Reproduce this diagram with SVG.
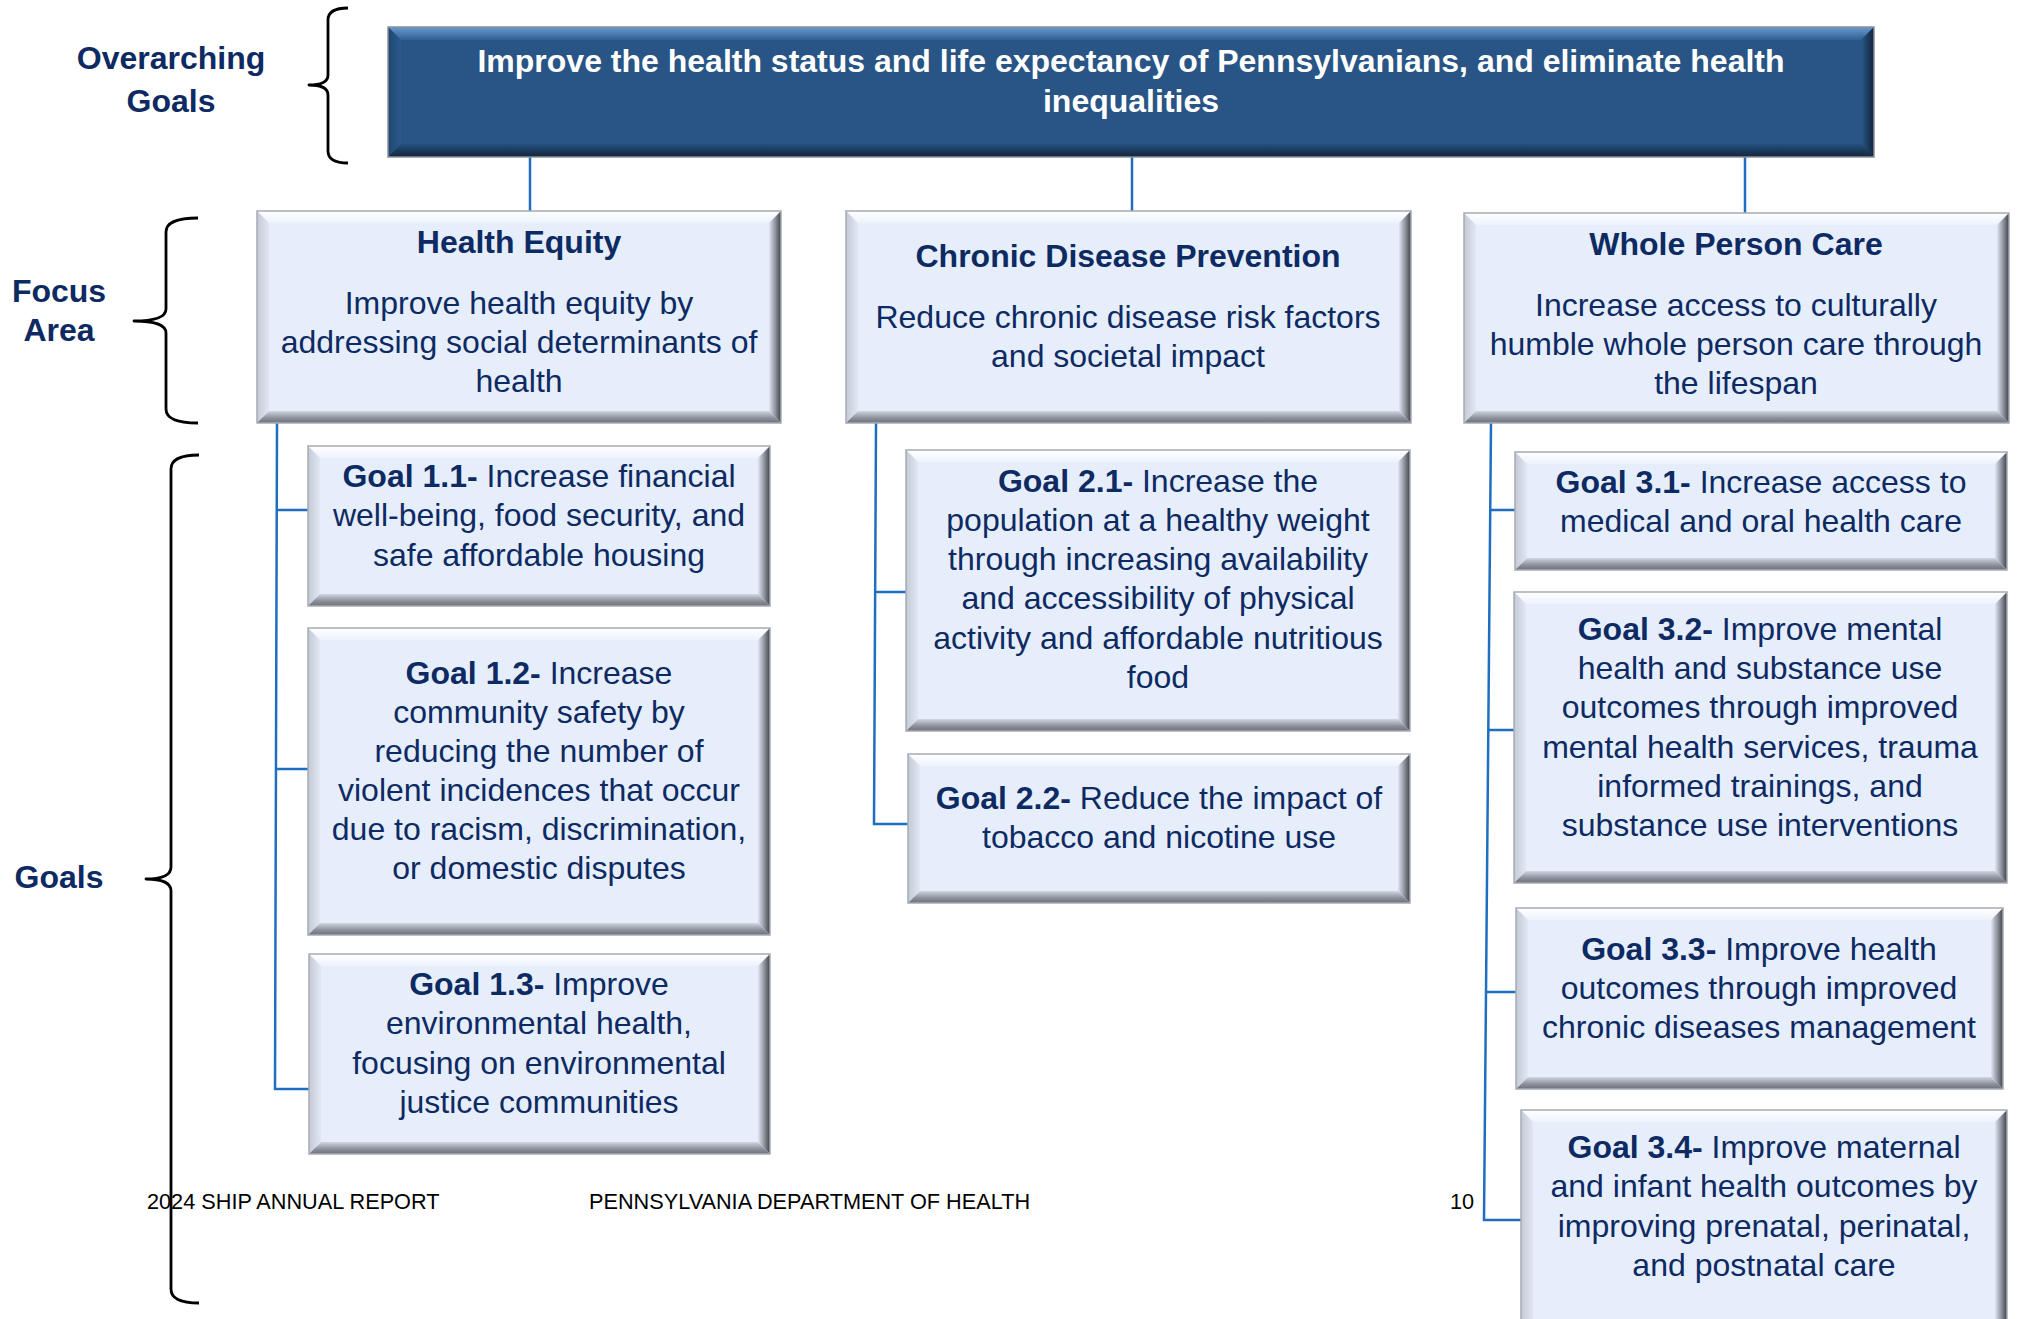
<svg xmlns="http://www.w3.org/2000/svg" width="2021" height="1319" viewBox="0 0 2021 1319">
<defs>
<linearGradient id="ltTop" x1="0" y1="0" x2="0" y2="1"><stop offset="0" stop-color="#ffffff"/><stop offset="1" stop-color="#edf2fc"/></linearGradient>
<linearGradient id="ltLeft" x1="0" y1="0" x2="1" y2="0"><stop offset="0" stop-color="#c3c9d5"/><stop offset="1" stop-color="#e1e7f3"/></linearGradient>
<linearGradient id="ltRight" x1="0" y1="0" x2="1" y2="0"><stop offset="0" stop-color="#dfe6f2"/><stop offset="0.55" stop-color="#8a8f99"/><stop offset="1" stop-color="#3e424a"/></linearGradient>
<linearGradient id="ltBot" x1="0" y1="0" x2="0" y2="1"><stop offset="0" stop-color="#d0d6e2"/><stop offset="0.6" stop-color="#8a8f99"/><stop offset="1" stop-color="#6c717a"/></linearGradient>
<linearGradient id="dkTop" x1="0" y1="0" x2="0" y2="1"><stop offset="0" stop-color="#6b99cd"/><stop offset="1" stop-color="#2f5f94"/></linearGradient>
<linearGradient id="dkLeft" x1="0" y1="0" x2="1" y2="0"><stop offset="0" stop-color="#1f4670"/><stop offset="1" stop-color="#2a5a8e"/></linearGradient>
<linearGradient id="dkRight" x1="0" y1="0" x2="1" y2="0"><stop offset="0" stop-color="#295889"/><stop offset="1" stop-color="#132339"/></linearGradient>
<linearGradient id="dkBot" x1="0" y1="0" x2="0" y2="1"><stop offset="0" stop-color="#24507f"/><stop offset="1" stop-color="#14253b"/></linearGradient>
<style>
.face{fill:#e6eefc}
.bt{fill:url(#ltTop)}.bl{fill:url(#ltLeft)}.br{fill:url(#ltRight)}.bb{fill:url(#ltBot)}
.edge{fill:none;stroke:#a6abb4;stroke-width:1.5}
.dface{fill:#285585}
.dt{fill:url(#dkTop)}.dl{fill:url(#dkLeft)}.dr{fill:url(#dkRight)}.db{fill:url(#dkBot)}
.dedge{fill:none;stroke:#8a9099;stroke-width:1.5}
.t{font-family:"Liberation Sans",Arial,sans-serif;font-size:32px;fill:#0e2a62;text-anchor:middle}
.b{font-weight:bold}
.w{fill:#ffffff;font-weight:bold}
.ft{font-family:"Liberation Sans",Arial,sans-serif;font-size:21.7px;fill:#000000}
.con{fill:none;stroke:#1f6fc0;stroke-width:2.5}
.brace{fill:none;stroke:#000000;stroke-width:2.8;stroke-linejoin:round}
</style>
</defs>
<rect width="2021" height="1319" fill="#ffffff"/>

<g id="braces">
<path class="brace" d="M348 8 Q328 8 328 20 L328 75 Q328 85 309 85 Q328 85 328 95 L328 151 Q328 163 348 163"/>
<path class="brace" d="M198 218 Q166 218 166 232 L166 309 Q166 321 134 321 Q166 321 166 333 L166 409 Q166 423 198 423"/>
<path class="brace" d="M199 455 Q171 455 171 469 L171 867 Q171 879 146 879 Q171 879 171 891 L171 1289 Q171 1303 199 1303"/>
</g>

<g id="labels">
<text class="t b" x="171" y="69">Overarching</text>
<text class="t b" x="171" y="112">Goals</text>
<text class="t b" x="59" y="302">Focus</text>
<text class="t b" x="59" y="341">Area</text>
<text class="t b" x="59" y="888">Goals</text>
</g>

<g id="connectors">
<path class="con" d="M530 157 L530 211"/>
<path class="con" d="M1132 157 L1132 211"/>
<path class="con" d="M1745 157 L1745 213"/>
<path class="con" d="M277 423 L275 1089 L309 1089"/>
<path class="con" d="M276.7 510 L308 510"/>
<path class="con" d="M276 769 L308 769"/>
<path class="con" d="M876 423 L874 824 L908 824"/>
<path class="con" d="M875.2 592 L906 592"/>
<path class="con" d="M1491 423 L1484 1220 L1521 1220"/>
<path class="con" d="M1490.2 510 L1515 510"/>
<path class="con" d="M1488.3 730 L1514 730"/>
<path class="con" d="M1486 992 L1516 992"/>
</g>

<g id="top-goal">
<rect class="dface" x="388" y="27" width="1486" height="130"/>
<polygon class="dt" points="388,27 1874,27 1861,40 401,40"/>
<polygon class="dl" points="388,27 401,40 401,144 388,157"/>
<polygon class="dr" points="1874,27 1874,157 1861,144 1861,40"/>
<polygon class="db" points="388,157 1874,157 1861,144 401,144"/>
<rect class="dedge" x="388" y="27" width="1486" height="130"/>
<text class="t w" x="1131" y="72">Improve the health status and life expectancy of Pennsylvanians, and eliminate health</text>
<text class="t w" x="1131" y="112">inequalities</text>
</g>

<g id="fa-health-equity">
<rect class="face" x="257" y="211" width="524" height="212"/>
<polygon class="bt" points="257,211 781,211 769,223 269,223"/>
<polygon class="bl" points="257,211 269,223 269,411 257,423"/>
<polygon class="br" points="781,211 781,423 769,411 769,223"/>
<polygon class="bb" points="257,423 781,423 769,411 269,411"/>
<rect class="edge" x="257" y="211" width="524" height="212"/>
<text class="t b" x="519" y="253">Health Equity</text>
<text class="t" x="519" y="314">Improve health equity by</text>
<text class="t" x="519" y="353">addressing social determinants of</text>
<text class="t" x="519" y="392">health</text>
</g>

<g id="fa-chronic-disease">
<rect class="face" x="846" y="211" width="565" height="212"/>
<polygon class="bt" points="846,211 1411,211 1399,223 858,223"/>
<polygon class="bl" points="846,211 858,223 858,411 846,423"/>
<polygon class="br" points="1411,211 1411,423 1399,411 1399,223"/>
<polygon class="bb" points="846,423 1411,423 1399,411 858,411"/>
<rect class="edge" x="846" y="211" width="565" height="212"/>
<text class="t b" x="1128" y="267">Chronic Disease Prevention</text>
<text class="t" x="1128" y="328">Reduce chronic disease risk factors</text>
<text class="t" x="1128" y="367">and societal impact</text>
</g>

<g id="fa-whole-person">
<rect class="face" x="1464" y="213" width="545" height="210"/>
<polygon class="bt" points="1464,213 2009,213 1997,225 1476,225"/>
<polygon class="bl" points="1464,213 1476,225 1476,411 1464,423"/>
<polygon class="br" points="2009,213 2009,423 1997,411 1997,225"/>
<polygon class="bb" points="1464,423 2009,423 1997,411 1476,411"/>
<rect class="edge" x="1464" y="213" width="545" height="210"/>
<text class="t b" x="1736" y="255">Whole Person Care</text>
<text class="t" x="1736" y="316">Increase access to culturally</text>
<text class="t" x="1736" y="355">humble whole person care through</text>
<text class="t" x="1736" y="394">the lifespan</text>
</g>

<g id="goal-1-1">
<rect class="face" x="308" y="446" width="462" height="160"/>
<polygon class="bt" points="308,446 770,446 758,458 320,458"/>
<polygon class="bl" points="308,446 320,458 320,594 308,606"/>
<polygon class="br" points="770,446 770,606 758,594 758,458"/>
<polygon class="bb" points="308,606 770,606 758,594 320,594"/>
<rect class="edge" x="308" y="446" width="462" height="160"/>
<text class="t" x="539" y="487"><tspan class="b">Goal 1.1-</tspan> Increase financial</text>
<text class="t" x="539" y="526">well-being, food security, and</text>
<text class="t" x="539" y="566">safe affordable housing</text>
</g>

<g id="goal-1-2">
<rect class="face" x="308" y="628" width="462" height="307"/>
<polygon class="bt" points="308,628 770,628 758,640 320,640"/>
<polygon class="bl" points="308,628 320,640 320,923 308,935"/>
<polygon class="br" points="770,628 770,935 758,923 758,640"/>
<polygon class="bb" points="308,935 770,935 758,923 320,923"/>
<rect class="edge" x="308" y="628" width="462" height="307"/>
<text class="t" x="539" y="684"><tspan class="b">Goal 1.2-</tspan> Increase</text>
<text class="t" x="539" y="723">community safety by</text>
<text class="t" x="539" y="762">reducing the number of</text>
<text class="t" x="539" y="801">violent incidences that occur</text>
<text class="t" x="539" y="840">due to racism, discrimination,</text>
<text class="t" x="539" y="879">or domestic disputes</text>
</g>

<g id="goal-1-3">
<rect class="face" x="309" y="954" width="461" height="200"/>
<polygon class="bt" points="309,954 770,954 758,966 321,966"/>
<polygon class="bl" points="309,954 321,966 321,1142 309,1154"/>
<polygon class="br" points="770,954 770,1154 758,1142 758,966"/>
<polygon class="bb" points="309,1154 770,1154 758,1142 321,1142"/>
<rect class="edge" x="309" y="954" width="461" height="200"/>
<text class="t" x="539" y="995"><tspan class="b">Goal 1.3-</tspan> Improve</text>
<text class="t" x="539" y="1034">environmental health,</text>
<text class="t" x="539" y="1074">focusing on environmental</text>
<text class="t" x="539" y="1113">justice communities</text>
</g>

<g id="goal-2-1">
<rect class="face" x="906" y="450" width="504" height="281"/>
<polygon class="bt" points="906,450 1410,450 1398,462 918,462"/>
<polygon class="bl" points="906,450 918,462 918,719 906,731"/>
<polygon class="br" points="1410,450 1410,731 1398,719 1398,462"/>
<polygon class="bb" points="906,731 1410,731 1398,719 918,719"/>
<rect class="edge" x="906" y="450" width="504" height="281"/>
<text class="t" x="1158" y="492"><tspan class="b">Goal 2.1-</tspan> Increase the</text>
<text class="t" x="1158" y="531">population at a healthy weight</text>
<text class="t" x="1158" y="570">through increasing availability</text>
<text class="t" x="1158" y="609">and accessibility of physical</text>
<text class="t" x="1158" y="649">activity and affordable nutritious</text>
<text class="t" x="1158" y="688">food</text>
</g>

<g id="goal-2-2">
<rect class="face" x="908" y="754" width="502" height="149"/>
<polygon class="bt" points="908,754 1410,754 1398,766 920,766"/>
<polygon class="bl" points="908,754 920,766 920,891 908,903"/>
<polygon class="br" points="1410,754 1410,903 1398,891 1398,766"/>
<polygon class="bb" points="908,903 1410,903 1398,891 920,891"/>
<rect class="edge" x="908" y="754" width="502" height="149"/>
<text class="t" x="1159" y="809"><tspan class="b">Goal 2.2-</tspan> Reduce the impact of</text>
<text class="t" x="1159" y="848">tobacco and nicotine use</text>
</g>

<g id="goal-3-1">
<rect class="face" x="1515" y="452" width="492" height="118"/>
<polygon class="bt" points="1515,452 2007,452 1995,464 1527,464"/>
<polygon class="bl" points="1515,452 1527,464 1527,558 1515,570"/>
<polygon class="br" points="2007,452 2007,570 1995,558 1995,464"/>
<polygon class="bb" points="1515,570 2007,570 1995,558 1527,558"/>
<rect class="edge" x="1515" y="452" width="492" height="118"/>
<text class="t" x="1761" y="493"><tspan class="b">Goal 3.1-</tspan> Increase access to</text>
<text class="t" x="1761" y="532">medical and oral health care</text>
</g>

<g id="goal-3-2">
<rect class="face" x="1514" y="592" width="493" height="291"/>
<polygon class="bt" points="1514,592 2007,592 1995,604 1526,604"/>
<polygon class="bl" points="1514,592 1526,604 1526,871 1514,883"/>
<polygon class="br" points="2007,592 2007,883 1995,871 1995,604"/>
<polygon class="bb" points="1514,883 2007,883 1995,871 1526,871"/>
<rect class="edge" x="1514" y="592" width="493" height="291"/>
<text class="t" x="1760" y="640"><tspan class="b">Goal 3.2-</tspan> Improve mental</text>
<text class="t" x="1760" y="679">health and substance use</text>
<text class="t" x="1760" y="718">outcomes through improved</text>
<text class="t" x="1760" y="758">mental health services, trauma</text>
<text class="t" x="1760" y="797">informed trainings, and</text>
<text class="t" x="1760" y="836">substance use interventions</text>
</g>

<g id="goal-3-3">
<rect class="face" x="1516" y="908" width="487" height="181"/>
<polygon class="bt" points="1516,908 2003,908 1991,920 1528,920"/>
<polygon class="bl" points="1516,908 1528,920 1528,1077 1516,1089"/>
<polygon class="br" points="2003,908 2003,1089 1991,1077 1991,920"/>
<polygon class="bb" points="1516,1089 2003,1089 1991,1077 1528,1077"/>
<rect class="edge" x="1516" y="908" width="487" height="181"/>
<text class="t" x="1759" y="960"><tspan class="b">Goal 3.3-</tspan> Improve health</text>
<text class="t" x="1759" y="999">outcomes through improved</text>
<text class="t" x="1759" y="1038">chronic diseases management</text>
</g>

<g id="goal-3-4">
<rect class="face" x="1521" y="1110" width="486" height="225"/>
<polygon class="bt" points="1521,1110 2007,1110 1995,1122 1533,1122"/>
<polygon class="bl" points="1521,1110 1533,1122 1533,1323 1521,1335"/>
<polygon class="br" points="2007,1110 2007,1335 1995,1323 1995,1122"/>
<polygon class="bb" points="1521,1335 2007,1335 1995,1323 1533,1323"/>
<rect class="edge" x="1521" y="1110" width="486" height="225"/>
<text class="t" x="1764" y="1158"><tspan class="b">Goal 3.4-</tspan> Improve maternal</text>
<text class="t" x="1764" y="1197">and infant health outcomes by</text>
<text class="t" x="1764" y="1237">improving prenatal, perinatal,</text>
<text class="t" x="1764" y="1276">and postnatal care</text>
</g>

<g id="footer">
<text class="ft" x="147" y="1209">2024 SHIP ANNUAL REPORT</text>
<text class="ft" x="589" y="1209">PENNSYLVANIA DEPARTMENT OF HEALTH</text>
<text class="ft" x="1450" y="1209">10</text>
</g>
</svg>
